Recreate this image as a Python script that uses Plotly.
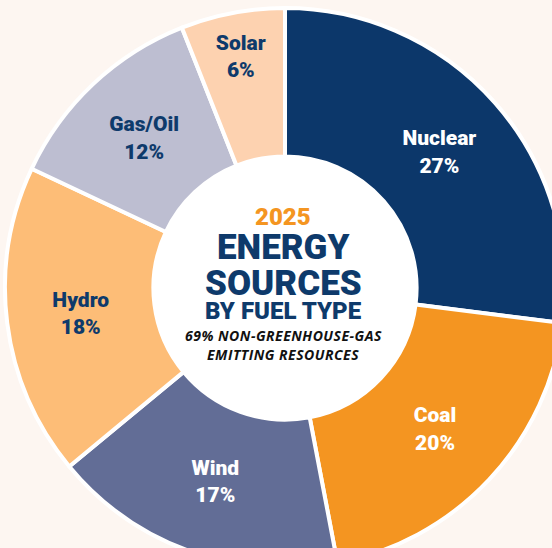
import plotly.graph_objects as go

# ---- data ----
sources = ["Nuclear", "Coal", "Wind", "Hydro", "Gas/Oil", "Solar"]
shares = [27, 20, 17, 18, 12, 6]
slice_colors = ["#0C376A", "#F49521", "#626D96", "#FDBD77", "#BDBED1", "#FDD2B0"]
label_colors = ["#FFFFFF", "#FFFFFF", "#FFFFFF", "#0E3A6B", "#0E3A6B", "#0E3A6B"]

title_year = "2025"
title_lines = ["ENERGY", "SOURCES"]
title_sub = "BY FUEL TYPE"
note_lines = ["69% NON-GREENHOUSE-GAS", "EMITTING RESOURCES"]

# ---- geometry (figure larger than window so the ring is cropped like the original) ----
W, H = 570, 576
CX, CY, R = 285, 288, 280
HOLE = 0.47

BG = "#FDF6F1"
NAVY = "#0E3A6B"
ORANGE = "#F49521"
HEAVY = "Roboto, Lato, sans-serif"

fig = go.Figure()
fig.add_trace(go.Pie(
    labels=sources,
    values=shares,
    sort=False,
    direction="clockwise",
    rotation=0,
    hole=HOLE,
    domain=dict(x=[(CX - R) / W, (CX + R) / W], y=[0, 1]),
    marker=dict(colors=slice_colors, line=dict(color="#FFFFFF", width=4)),
    texttemplate="%{label}<br>%{value}%",
    textposition="inside",
    insidetextorientation="horizontal",
    textfont=dict(family=HEAVY, size=21, weight=900, color=label_colors),
    hoverinfo="label+value",
    showlegend=False,
))

# white disc inside the hole
hr = R * HOLE + 1
fig.add_shape(type="circle", xref="paper", yref="paper",
              x0=(CX - hr) / W, x1=(CX + hr) / W,
              y0=1 - (CY + hr) / H, y1=1 - (CY - hr) / H,
              fillcolor="#FFFFFF", line=dict(width=0), layer="below")


def px(x, y):
    return x / W, 1 - y / H


note_font = dict(family="'Open Sans', sans-serif", size=14, weight=700, style="italic", color="#111111")
texts = [
    (title_year, 217, dict(family=HEAVY, size=24, weight=900, color=ORANGE)),
    (title_lines[0], 247, dict(family=HEAVY, size=35, weight=900, color=NAVY)),
    (title_lines[1], 283, dict(family=HEAVY, size=35, weight=900, color=NAVY)),
    (title_sub, 311, dict(family=HEAVY, size=24, weight=900, color=NAVY)),
    ("<span style='letter-spacing:0.5px'>" + note_lines[0] + "</span>", 335, note_font),
    ("<span style='letter-spacing:0.5px'>" + note_lines[1] + "</span>", 354, note_font),
]
for t, y, f in texts:
    xx, yy = px(283, y)
    fig.add_annotation(text=t, x=xx, y=yy, xref="paper", yref="paper",
                       showarrow=False, xanchor="center", yanchor="middle", font=f)

fig.update_layout(
    width=W, height=H,
    margin=dict(l=0, r=0, t=0, b=0),
    paper_bgcolor=BG,
    plot_bgcolor=BG,
)

fig.write_html(
    "out.html",
    post_script="document.documentElement.style.overflow='hidden';"
                "document.body.style.overflow='hidden';document.body.style.margin='0';",
)
